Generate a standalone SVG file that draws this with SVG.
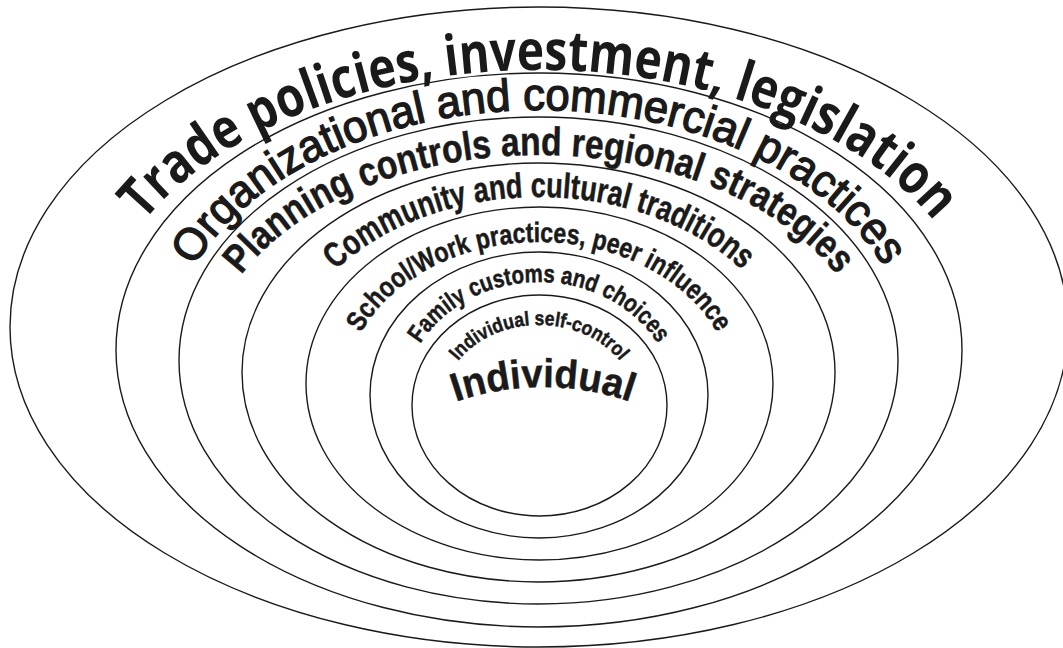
<svg xmlns="http://www.w3.org/2000/svg" xmlns:xlink="http://www.w3.org/1999/xlink" width="1063" height="648" viewBox="0 0 1063 648">
  <style>
    .ring { fill: none; stroke: #1a1a1a; stroke-width: 1.4; }
    .lbl { fill: #1a1a1a; stroke: #1a1a1a; stroke-width: 0.5; font-family: "Liberation Sans", Arial, sans-serif; font-weight: bold; text-anchor: middle; }
    .lbl-h { fill: #1a1a1a; font-family: "Open Sans", "Noto Sans", sans-serif; font-weight: 700; text-anchor: middle; }
    .lbl-r { fill: #1a1a1a; stroke: #1a1a1a; stroke-width: 1.4; font-family: "Liberation Sans", Arial, sans-serif; font-weight: normal; text-anchor: middle; }
  </style>
  <defs>
    <path id="p1" d="M 94,350 A 445,280 0 0 1 984,350"/>
    <path id="p2" d="M 167,360.5 A 372,250.5 0 0 1 911,360.5"/>
    <path id="p3" d="M 206,372.5 A 333,217.5 0 0 1 872,372.5"/>
    <path id="p4" d="M 283,383.5 A 256,186.5 0 0 1 795,383.5"/>
    <path id="p5" d="M 344,395 A 195,153 0 0 1 734,395"/>
    <path id="p6" d="M 402,405 A 137,123 0 0 1 676,405"/>
    <path id="p7" d="M 442,405 A 97,80 0 0 1 636,405"/>
    <path id="p8" d="M 278,652 A 265,265 0 0 1 808,652"/>
  </defs>
  <rect width="1063" height="648" fill="#ffffff"/>
  <g id="ring-trade">
    <ellipse class="ring" cx="539" cy="327" rx="529" ry="320"/>
    <text class="lbl-h" font-size="56"><textPath href="#p1" xlink:href="#p1" startOffset="50%" textLength="872" lengthAdjust="spacingAndGlyphs">Trade policies, investment, legislation</textPath></text>
  </g>
  <g id="ring-organizational">
    <ellipse class="ring" cx="539" cy="350" rx="423" ry="277"/>
    <text class="lbl-r" font-size="45"><textPath href="#p2" xlink:href="#p2" startOffset="50%" textLength="789" lengthAdjust="spacingAndGlyphs">Organizational and commercial practices</textPath></text>
  </g>
  <g id="ring-planning">
    <ellipse class="ring" cx="538.5" cy="360.5" rx="359.5" ry="243.5"/>
    <text class="lbl" font-size="40"><textPath href="#p3" xlink:href="#p3" startOffset="50%" textLength="663" lengthAdjust="spacingAndGlyphs">Planning controls and regional strategies</textPath></text>
  </g>
  <g id="ring-community">
    <ellipse class="ring" cx="538.5" cy="372.5" rx="296.5" ry="209.5"/>
    <text class="lbl" font-size="35"><textPath href="#p4" xlink:href="#p4" startOffset="50%" textLength="442" lengthAdjust="spacingAndGlyphs">Community and cultural traditions</textPath></text>
  </g>
  <g id="ring-school">
    <ellipse class="ring" cx="539.5" cy="383.5" rx="233.5" ry="176.5"/>
    <text class="lbl" font-size="28"><textPath href="#p5" xlink:href="#p5" startOffset="50%" textLength="418" lengthAdjust="spacingAndGlyphs">School/Work practices, peer influence</textPath></text>
  </g>
  <g id="ring-family">
    <ellipse class="ring" cx="539" cy="395" rx="169" ry="143"/>
    <text class="lbl" font-size="25"><textPath href="#p6" xlink:href="#p6" startOffset="50%" textLength="279" lengthAdjust="spacingAndGlyphs">Family customs and choices</textPath></text>
  </g>
  <g id="ring-individual">
    <ellipse class="ring" cx="539.5" cy="405.5" rx="127.5" ry="110.5"/>
    <text class="lbl" font-size="20"><textPath href="#p7" xlink:href="#p7" startOffset="50%" textLength="183" lengthAdjust="spacingAndGlyphs">Individual self-control</textPath></text>
    <text class="lbl" font-size="40"><textPath href="#p8" xlink:href="#p8" startOffset="50%" textLength="178" lengthAdjust="spacingAndGlyphs">Individual</textPath></text>
  </g>
</svg>
